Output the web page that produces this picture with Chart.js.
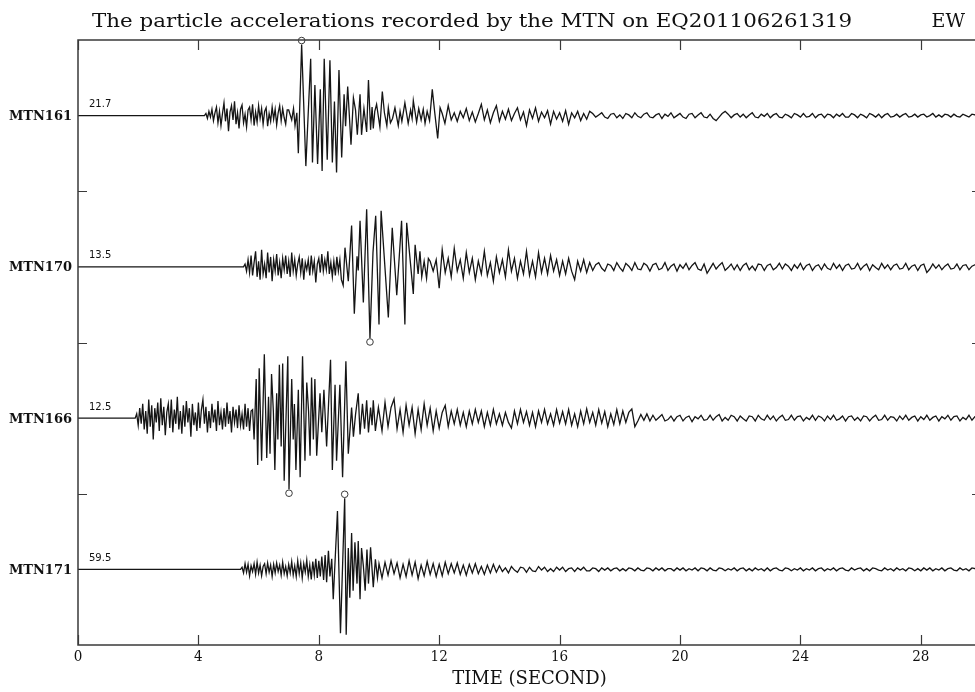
<!DOCTYPE html>
<html>
<head>
<meta charset="utf-8">
<script src="https://cdn.jsdelivr.net/npm/chart.js@4.4.1/dist/chart.umd.min.js"></script>
<style>
  html, body { margin: 0; padding: 0; background: #fff; overflow: hidden; }
  #wrap { width: 992px; height: 692px; }
</style>
</head>
<body>
<div id="wrap"><canvas id="quake" width="992" height="692"></canvas></div>
<script>
// Stations from top to bottom, with the peak acceleration written by each trace
const stations = ["MTN161", "MTN170", "MTN166", "MTN171"];
const peakLabels = ["21.7", "13.5", "12.5", "59.5"];
const xTicks = [0, 4, 8, 12, 16, 20, 24, 28];
const slotTicks = [1, 2, 3];

// Amplitudes are relative, 100 = peak of that trace
// Early part: one value every 0.05 s from the onset time
const onsets = [4.2, 5.5, 1.9, 5.4];
const mtn161Early = [0, 3, -4, 6, -2, 9, -7, 4, 12, -10, 6, -14, 3, 18, -8, 10, -22, 5, 14, -6, 20, -12, 4, -18, 9, 15, -10, 2, -16, 8, 12, -6, 16, -14, 5, -9, 14, -4, 10, -12, 6, 11, -15, 3, -8, 12, -5, 9, -13, 4, 14, -7, 10, -3, -12, 8];
const mtn170Early = [0, 4, -6, 10, -8, 16, -12, 6, 22, -14, 8, -18, 24, -10, 4, -16, 20, -8, 14, -20, 10, -6, 18, -12, 6, -16, 12, -4, 16, -10, 8, -14, 20, -6, 10, -12, 4, 14, -8, 12, -18, 6, -4, 10, -12, 16, -6, 8, -22, 4, 12, -8, 18, -6, 10, -4, 22, -10, 6, -14, 8, -12, 14, -6, 10, -18];
const mtn166Early = [0, 6, -10, 14, -8, 20, -16, 10, -22, 26, -12, 18, -30, 14, -6, 22, -18, 28, -10, 16, -24, 8, 20, -14, 26, -20, 12, -8, 30, -16, 10, -22, 18, -12, 24, -6, 14, -26, 20, -10, 8, -18, 22, -14, 12, 26, -8, 16, -20, 10, -14, 20, -6, 12, -18, 24, -10, 8, -16, 14, -12, 22, -8, 10, -20, 16, -6, 12, -14, 18, -10, 6, -16, 20, -12, 14, -18, 10];
const mtn171Early = [0, 3, -5, 8, -4, 7, -9, 5, -3, 8, -7, 10, -5, 6, -9, 4, 8, -6, 9, -4, 6, -10, 7, -5, 9, -3, 6, -8, 10, -6, 4, -9, 7, -5, 11, -8, 5, -10, 12, -6, 9, -12, 8, -4, 13, -10, 6, -14, 11, -8, 15, -12];

// Strong shaking: turning points (time in s, amplitude)
const mtn161MainT = [7.00, 7.10, 7.16, 7.21, 7.27, 7.32, 7.43, 7.57, 7.73, 7.79, 7.87, 7.96, 8.05, 8.11, 8.18, 8.28, 8.37, 8.45, 8.52, 8.59, 8.67, 8.76, 8.84, 8.89, 8.96, 9.07, 9.15, 9.22, 9.28, 9.37, 9.42, 9.50, 9.59, 9.65, 9.72, 9.77, 9.81, 9.86, 9.92, 10.03, 10.11, 10.18, 10.26, 10.31, 10.38, 10.45, 10.53, 10.64, 10.70, 10.76, 10.86, 10.97, 11.05, 11.10, 11.14, 11.25, 11.32, 11.40, 11.47, 11.53, 11.60, 11.68, 11.77, 11.85, 11.95, 12.03, 12.10, 12.19, 12.30];
const mtn161MainA = [8, -6, 10, -14, 4, -53, 100, -71, 80, -66, 43, -68, 37, -78, 80, -62, 78, -66, 20, -80, 64, -59, 30, -15, 41, -41, 25, 8, -27, 30, -27, 10, -23, 50, -20, 12, -18, 6, 16, -16, 34, 4, -14, 11, -10, -4, 11, -14, 6, -8, 18, -11, 8, -4, 21, -9, 10, -6, 9, -11, 6, -7, 37, 5, -32, 11, 3, -11, 14];
const mtn170MainT = [8.81, 8.87, 8.98, 9.09, 9.18, 9.27, 9.31, 9.37, 9.48, 9.59, 9.70, 9.80, 9.89, 10.00, 10.07, 10.31, 10.44, 10.59, 10.75, 10.86, 10.92, 11.14, 11.20, 11.30, 11.36, 11.42, 11.50, 11.58, 11.64];
const mtn170MainA = [-26, 27, -20, 58, -66, 15, -5, 65, -50, 81, -100, 20, 72, -81, 79, -71, 55, -40, 65, -81, 62, -38, 31, -10, 22, -14, 8, -16, 12];
const mtn166MainT = [5.80, 5.85, 5.92, 5.97, 6.02, 6.10, 6.19, 6.27, 6.33, 6.38, 6.43, 6.49, 6.54, 6.60, 6.64, 6.69, 6.75, 6.80, 6.85, 6.97, 7.01, 7.10, 7.15, 7.19, 7.24, 7.32, 7.38, 7.46, 7.54, 7.60, 7.66, 7.71, 7.76, 7.82, 7.87, 7.93, 8.04, 8.10, 8.17, 8.26, 8.39, 8.45, 8.54, 8.59, 8.70, 8.79, 8.90, 8.98, 9.09, 9.15, 9.22, 9.31, 9.37, 9.45, 9.52, 9.59, 9.65, 9.72, 9.77, 9.81, 9.88, 9.98];
const mtn166MainA = [12, -30, 55, -66, 70, -60, 90, -56, 30, -50, 62, 10, -73, 35, -30, 75, -40, 77, -88, 87, -100, 55, -30, 20, -73, 40, -83, 87, -60, 50, 10, -53, 57, -30, 55, -53, 35, -20, 40, -40, 82, -73, 47, -60, 47, -83, 80, -50, 15, -26, 5, 35, -23, 20, -15, 25, -20, 15, -10, 25, -18, 15];
const mtn171MainT = [8.00, 8.05, 8.10, 8.16, 8.21, 8.26, 8.32, 8.37, 8.43, 8.48, 8.62, 8.72, 8.86, 8.91, 8.98, 9.03, 9.09, 9.14, 9.20, 9.27, 9.31, 9.37, 9.42, 9.48, 9.54, 9.60, 9.65, 9.72, 9.81, 9.88, 9.95];
const mtn171MainA = [12, -10, 18, -15, 20, -18, 26, -10, 15, -42, 82, -90, 100, -92, 30, -40, 51, -30, 38, -20, 40, -42, 30, 5, -30, 28, -20, 31, -25, 14, -12];

// Coda: one value every 0.1 s from the coda start time
const codaStarts = [12.4, 11.7, 10.1, 10.0];
const mtn161Coda = [-6, 4, -8, 6, -3, 10, -7,
  5, -9, 3, 16, -6, 8, -10, 4, 14, -8,
  6, -5, 9, -7, 3, 11, -6, 5, -14, 8,
  -4, 11, -8, 5, -3, 7, -12, 6, -5, 4,
  -8, 7, -12, 4, -3, 6, -7, 3, -5, 6,
  3, -2, 1, 4, -2, -4, 2, 3, -3, 1,
  -4, 3, 1, -3, 4, -1, -3, 2, 4, -2,
  -3, 1, 3, -4, 2, -1, 4, -3, 0, 3,
  -2, -4, 2, 3, -3, 1, 4, -2, -3, 2,
  -4, -7, -2, 3, 6, 2, -3, 1, 3, -2,
  2, -3, 1, 4, -2, -3, 2, -1, 3, -3,
  1, 3, -2, -3, 2, 0, -3, 3, 1, -2,
  3, -2, -1, 3, -3, 1, 2, -3, 2, 1,
  -3, 2, -1, 3, -2, -2, 3, 1, -3, 2,
  0, -3, 3, 1, -2, 2, -3, 1, 3, -2,
  -1, 2, -2, 1, 3, -2, -1, 2, -2, 1,
  2, -2, 0, 3, -2, 1, -2, 2, 1, -2,
  2, -1, -2, 2, 0, -2, 2, 1, -2, 1];
const mtn170Coda = [8, -6, 10, -30,
  24, -8, 12, -14, 26, -6, 10, -16, 20, -8,
  12, -18, 8, -10, 22, -12, 6, -20, 14, -8,
  10, -14, 24, -6, 12, -16, 8, -10, 22, -12,
  8, -14, 20, -8, 12, -10, 16, -6, 10, -12,
  8, -10, 12, -6, -18, 8, -6, 10, -8, 6,
  -5, 3, 6, -2, -6, 4, 2, -5, 6, -1,
  -6, 5, 1, -5, 6, -3, -4, 5, 2, -6,
  3, 5, -4, -2, 6, -5, 1, 4, -6, 3,
  -2, 5, -4, 2, 6, -3, -5, 4, -9, -2,
  5, -3, 2, 6, -5, -1, 4, -4, 3, -5,
  2, 5, -4, 1, -5, 4, 3, -5, 2, 4,
  -4, -1, 5, -3, 4, 1, -5, 3, -2, 5,
  -4, 2, 4, -5, 1, 3, -4, 4, -2, -4,
  5, -2, 3, -5, 2, 4, -3, -2, 5, -4,
  1, 4, -5, 3, -1, -4, 5, -2, 3, -4,
  2, 4, -3, -2, 5, -4, 1, 3, -5, 2,
  4, -8, -3, 4, -2, 3, -4, 1, 4, -3,
  -2, 4, -4, 2, 3, -4, 1, 3, -3, 0];
const mtn166Coda = [-18, 22, -12, 15, 27, -15, 12, -20, 18, -10,
  15, -22, 12, -16, 20, -10, 14, -18, 10, -14,
  8, 18, -12, 10, -8, 12, -10, 8, -12, 10,
  -8, 12, -6, 10, -12, 8, -10, 12, -8, 6,
  -10, 8, -6, -14, 10, -8, 12, -6, 9, -10,
  8, -12, 10, -6, 12, -8, 6, -10, 12, -7,
  9, -8, 12, -10, 6, -12, 10, -8, 13, -6,
  8, -10, 12, -7, 9, -12, 6, -9, 12, -8,
  10, -6, 8, 13, -12, -4, 5, -3, 6, -4,
  4, -3, 1, 5, -4, -2, 3, -4, 2, 4,
  -4, 1, 3, -5, 2, -1, 4, -3, -2, 4,
  -3, 2, 5, -4, 1, -3, 4, 2, -4, 3,
  -1, -4, 3, 2, -4, 4, -1, -3, 4, -2,
  3, -4, 1, 4, -3, -2, 4, -3, 2, 3,
  -4, 1, -2, 4, -3, 3, 1, -4, 3, -2,
  4, -3, -1, 3, -4, 2, 3, -3, 1, -4,
  3, 2, -4, 1, 4, -3, -2, 4, -3, 2,
  1, -4, 3, -2, 4, -3, 1, 3, -4, 2,
  -2, 4, -3, 1, 3, -4, 2, -1, 4, -3,
  2, 3, -4, 1, -2, 4, -3, 2, 3, -3];
const mtn171Coda = [8, -12, 10, -8, 12, -6, 9, -12, 7, -10,
  12, -8, 10, -13, 6, -9, 11, -7, 8, -10,
  7, -9, 10, -6, 8, -5, 9, -7, 6, -8,
  7, -5, 8, -6, 4, -7, 6, -5, 7, -4,
  5, -3, 2, -5, 4, -1, -4, 3, 2, -4,
  3, -2, -3, 4, -1, 3, -3, 1, -3, 3,
  -1, 3, -3, 1, 2, -3, 2, -1, 3, -2,
  -2, 2, 1, -3, 2, -1, 2, -2, 1, 2,
  -2, 1, -2, 2, 1, -2, 2, -1, -2, 2,
  1, -2, 2, -1, 2, -2, 1, 1, -2, 2,
  -1, 2, -2, 1, -1, 2, -2, 2, 1, -2,
  2, -1, -2, 2, 1, -2, 1, -1, 2, -2,
  1, 2, -2, 1, -2, 2, -1, 1, -2, 2,
  -2, 1, 2, -1, -2, 2, 1, -2, 1, -1,
  2, -2, 1, -1, 2, -2, 1, 2, -2, 1,
  -1, 2, -2, 1, 2, -1, -2, 2, -1, 1,
  2, -2, 1, -2, 2, 1, -1, -2, 2, -1,
  1, -2, 2, -1, 1, -2, 2, 1, -2, 1,
  -2, 2, -1, 2, -2, 1, -1, 2, -2, 1,
  2, -1, -2, 2, -1, 1, -2, 2, 1, -2,
  0];

const earlyParts = [mtn161Early, mtn170Early, mtn166Early, mtn171Early];
const mainTimes = [mtn161MainT, mtn170MainT, mtn166MainT, mtn171MainT];
const mainAmps = [mtn161MainA, mtn170MainA, mtn166MainA, mtn171MainA];
const codaParts = [mtn161Coda, mtn170Coda, mtn166Coda, mtn171Coda];

const EARLY_STEP = 0.05;
const CODA_STEP = 0.1;
const GAIN = 0.0047; // 100 (peak) -> 0.47 of one trace slot
const centers = [3.5, 2.5, 1.5, 0.5];
const serif = '"DejaVu Serif", serif';
const serifNarrow = '"DejaVu Serif Condensed", "DejaVu Serif", serif';

function buildTrace(k) {
  const c = centers[k];
  const pts = [{ x: 0, y: c }];
  earlyParts[k].forEach((a, i) => pts.push({ x: +(onsets[k] + i * EARLY_STEP).toFixed(2), y: c + a * GAIN }));
  mainTimes[k].forEach((t, i) => pts.push({ x: t, y: c + mainAmps[k][i] * GAIN }));
  codaParts[k].forEach((a, i) => pts.push({ x: +(codaStarts[k] + i * CODA_STEP).toFixed(2), y: c + a * GAIN }));
  return pts;
}

// frame, inward ticks, station names, peak circles and title
const decor = {
  id: 'decor',
  afterDraw(chart) {
    const { ctx, chartArea: a, scales: { x, y } } = chart;
    ctx.save();
    ctx.strokeStyle = '#3a3a3a';
    ctx.lineWidth = 1.5;
    ctx.strokeRect(a.left, a.top, a.right - a.left, a.bottom - a.top);

    ctx.lineWidth = 1.2;
    ctx.beginPath();
    xTicks.forEach(v => {
      const px = Math.round(x.getPixelForValue(v)) + 0.5;
      ctx.moveTo(px, a.top); ctx.lineTo(px, a.top + 10);
      ctx.moveTo(px, a.bottom); ctx.lineTo(px, a.bottom - 10);
    });
    slotTicks.forEach(v => {
      const py = Math.round(y.getPixelForValue(v)) + 0.5;
      ctx.moveTo(a.left, py); ctx.lineTo(a.left + 9, py);
      ctx.moveTo(a.right, py); ctx.lineTo(a.right - 9, py);
    });
    ctx.stroke();

    ctx.fillStyle = '#111';
    ctx.textBaseline = 'middle';
    stations.forEach((s, k) => {
      const py = y.getPixelForValue(centers[k]);
      ctx.font = 'bold 13px ' + serif;
      ctx.textAlign = 'right';
      ctx.fillText(s, a.left - 6, py + 1);
      ctx.font = '10px "DejaVu Sans", sans-serif';
      ctx.textAlign = 'left';
      ctx.fillText(peakLabels[k], a.left + 11, py - 11);

      // circle at the largest swing of the trace
      const pts = chart.data.datasets[k].data;
      let best = pts[0];
      pts.forEach(p => { if (Math.abs(p.y - centers[k]) > Math.abs(best.y - centers[k])) best = p; });
      const dir = best.y > centers[k] ? -1 : 1;
      ctx.beginPath();
      ctx.lineWidth = 1;
      ctx.arc(x.getPixelForValue(best.x), y.getPixelForValue(best.y) + dir * 4, 3.3, 0, Math.PI * 2);
      ctx.stroke();
    });

    // title stretched to the width it has in the original
    const title = 'The particle accelerations recorded by the MTN on EQ201106261319';
    ctx.font = '19px ' + serif;
    ctx.textAlign = 'left';
    const w = ctx.measureText(title).width;
    ctx.save();
    ctx.translate(92, 22);
    ctx.scale(760 / w, 1);
    ctx.fillText(title, 0, 0);
    ctx.restore();
    ctx.textAlign = 'right';
    ctx.fillText('EW', 965, 22);
    ctx.restore();
  }
};

new Chart(document.getElementById('quake'), {
  type: 'line',
  data: {
    datasets: stations.map((s, k) => ({
      label: s,
      data: buildTrace(k),
      borderColor: '#151515',
      borderWidth: 1.3,
      pointRadius: 0,
      tension: 0,
      fill: false
    }))
  },
  options: {
    responsive: false,
    animation: false,
    events: [],
    layout: { padding: { left: 78, top: 40, right: 11, bottom: 2 } },
    plugins: { legend: { display: false }, tooltip: { enabled: false } },
    scales: {
      x: {
        type: 'linear',
        min: 0,
        max: 30,
        grid: { display: false, drawTicks: false },
        border: { display: false },
        afterBuildTicks: s => { s.ticks = xTicks.map(v => ({ value: v })); },
        afterFit: s => { s.paddingLeft = 0; s.paddingRight = 0; },
        ticks: { padding: 5, color: '#111', autoSkip: false, maxRotation: 0, font: { family: serifNarrow, size: 15, lineHeight: 1 } },
        title: { display: true, text: 'TIME (SECOND)', color: '#111', font: { family: serif, size: 18, lineHeight: 1 }, padding: { top: 0, bottom: 2 } }
      },
      y: { type: 'linear', min: 0, max: 4, display: false }
    }
  },
  plugins: [decor]
});
</script>
</body>
</html>
